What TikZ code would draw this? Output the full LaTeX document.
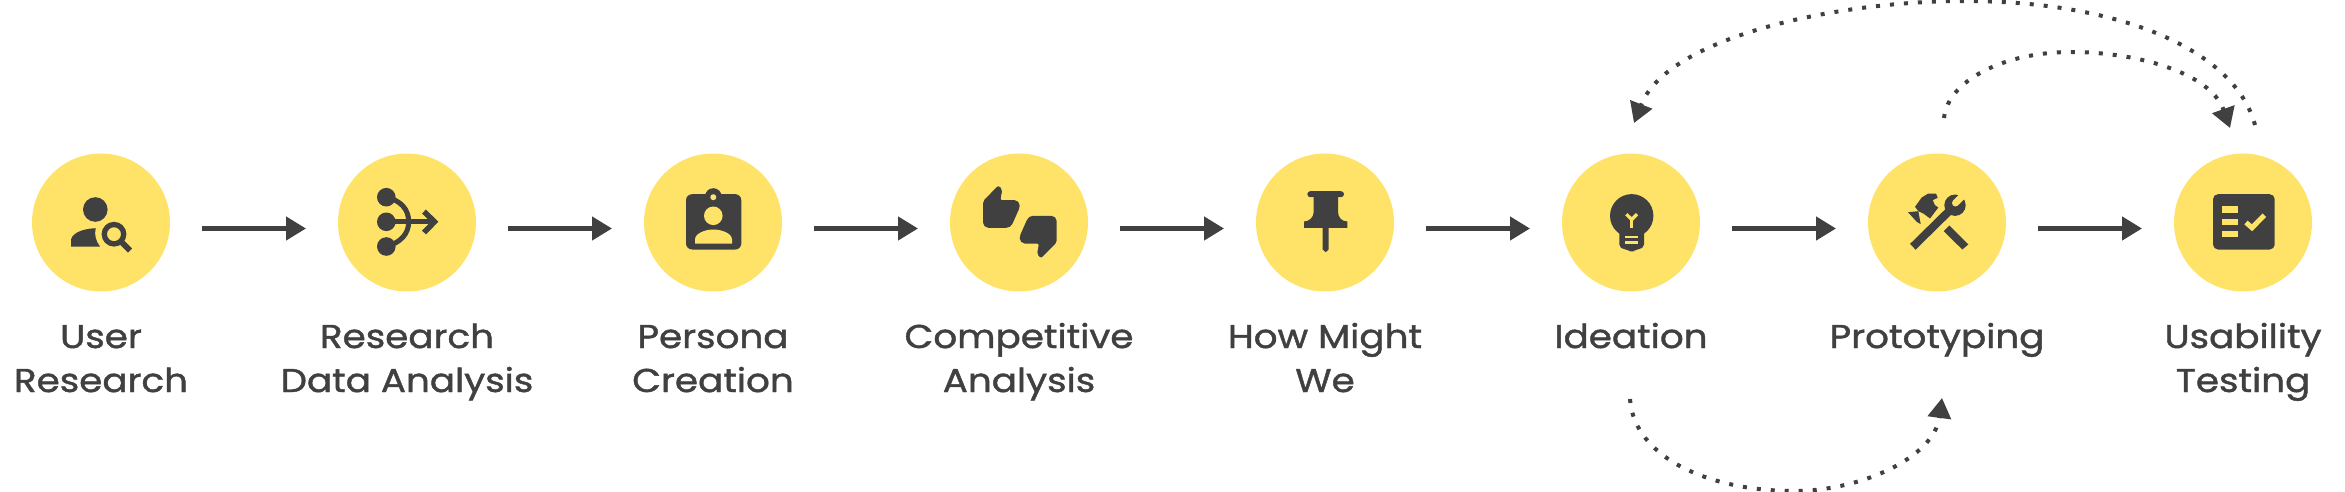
\documentclass[tikz,border=0pt]{standalone}
\usepackage{fontspec}
\setmainfont[FakeStretch=1.13,FakeBold=1.3]{Poppins}
\usetikzlibrary{arrows.meta,calc}
\definecolor{inkc}{HTML}{404040}
\definecolor{sun}{HTML}{FFE369}
\tikzset{
  disc/.style={circle,fill=sun,draw=none,minimum size=138pt,inner sep=0pt,outer sep=0pt},
  caption/.style={font=\fontsize{33}{44}\selectfont,text=inkc,align=center,anchor=base,inner sep=0pt},
  flow/.style={draw=inkc,line width=4.5pt,-{Triangle[length=20pt,width=23pt]}},
  loopback/.style={draw=inkc,line width=4pt,dash pattern=on 4pt off 10pt,-{Triangle[length=20pt,width=23pt]}},
  ink/.style={fill=inkc,draw=none},
  hole/.style={fill=sun,draw=none},
  inkline/.style={draw=inkc,fill=none},
  holeline/.style={draw=sun,fill=none}
}
\begin{document}
\begin{tikzpicture}[x=1pt,y=-1pt]
\useasboundingbox (0,0) rectangle (2345,492);
\foreach \i/\cx in {1/101,2/407,3/713,4/1019,5/1325,6/1631,7/1937,8/2243}
  \node[disc] (c\i) at (\cx,222.5) {};
\node[caption] (t1) at (101,392) {User\\Research};
\node[caption] (t2) at (407,392) {Research\\Data Analysis};
\node[caption] (t3) at (713,392) {Persona\\Creation};
\node[caption] (t4) at (1019,392) {Competitive\\Analysis};
\node[caption] (t5) at (1325,392) {How Might\\We};
\node[caption] (t6) at (1631,348) {Ideation};
\node[caption] (t7) at (1937,348) {Prototyping};
\node[caption] (t8) at (2243,392) {Usability\\Testing};
\foreach \a/\b in {1/2,2/3,3/4,4/5,5/6,6/7,7/8}
  \draw[flow] ([shift={(32,6)}]c\a.east) -- ([shift={(-32,6)}]c\b.west);
% loop-back connectors
\coordinate (big0) at (2255,125);
\coordinate (bigtop) at (1964,1);
\coordinate (bigend) at (1634,123);
\coordinate (mid0) at (1944,118);
\coordinate (midtop) at (2071,52);
\coordinate (midend) at (2230,128);
\coordinate (low0) at (1630,399);
\coordinate (lowbot) at (1794,491);
\coordinate (lowend) at (1942,398);
\draw[loopback] (big0) .. controls (2235,50) and (2120,1) .. (bigtop) .. controls (1840,1) and (1668,36) .. (bigend);
\draw[loopback] (mid0) .. controls (1948,80) and (2005,52) .. (midtop) .. controls (2135,52) and (2210,72) .. (midend);
\draw[loopback] (low0) .. controls (1634,458) and (1710,491) .. (lowbot) .. controls (1860,491) and (1934,458) .. (lowend);
% icon 1: user search
\begin{scope}[shift={(c1.center)}]
  \fill[ink] (-5.7,-13) circle[radius=12.3];
  \fill[ink] (-30,24) -- (-30,17) .. controls (-28,9) and (-15,6) .. (-5.3,5.7) .. controls (-7,12) and (-5,19) .. (-1,24) -- cycle;
  \draw[inkline,line width=5.3pt] (13,11.7) circle[radius=9.7];
  \draw[inkline,line width=6pt] (20.5,19.5) -- (29,28);
\end{scope}
% icon 2: merge arrow
\begin{scope}[shift={(c2.center)}]
  \fill[ink] (-20.7,-25.3) circle[radius=9.3];
  \fill[ink] (-20.7,-0.7) circle[radius=9.3];
  \fill[ink] (-20.7,24) circle[radius=9.3];
  \draw[inkline,line width=5pt] (-20.7,-25.3) .. controls (-6,-22) and (1.7,-13) .. (1.7,-0.7) .. controls (1.7,11) and (-6,20) .. (-20.7,24);
  \draw[inkline,line width=4.7pt] (-20.7,-0.7) -- (27,-0.7);
  \draw[inkline,line width=5.5pt,miter limit=4] (17,-11) -- (27.5,-0.7) -- (17,10);
\end{scope}
% icon 3: badge
\begin{scope}[shift={(c3.center)}]
  \fill[ink,rounded corners=6pt] (-27,-28.3) rectangle (28.3,27);
  \fill[ink] (0.3,-26) circle[radius=8.3];
  \fill[hole] (0.3,-25.3) circle[radius=3];
  \fill[hole] (0.3,-6.7) circle[radius=9.3];
  \fill[hole] (-18,21) -- (-18,17) .. controls (-18,11) and (-8,7) .. (0.3,7) .. controls (9,7) and (19,11) .. (19,17) -- (19,21) -- cycle;
\end{scope}
% icon 4: thumbs
\begin{scope}[shift={(c4.center)}]
  \fill[ink,rounded corners=2pt] (-36,-21.3) -- (-20.7,-37) -- (-16.7,-33) -- (-18.7,-22.3) -- (-2.3,-22.3) -- (0.7,-19) -- (0.7,-15) -- (-7.3,3) -- (-10.7,5.3) -- (-32.7,5.3) -- (-36,2) -- cycle;
  \fill[ink,rounded corners=2pt] (37.7,20) -- (22,35.7) -- (18,31.7) -- (20,21) -- (3.7,21) -- (0.7,17.7) -- (0.7,13.7) -- (8.7,-4.3) -- (12,-6.7) -- (34.3,-6.7) -- (37.7,-3.3) -- cycle;
\end{scope}
% icon 5: pin
\begin{scope}[shift={(c5.center)}]
  \fill[ink,rounded corners=3pt] (-17.7,-31.3) rectangle (19,-25.3);
  \fill[ink] (-11.3,-26) -- (13,-26) -- (13,-10.7) .. controls (13,-5) and (17,-1) .. (22.3,-1) -- (22.3,5.3) -- (-21,5.3) -- (-21,-1) .. controls (-16,-1) and (-11.3,-5) .. (-11.3,-10.7) -- cycle;
  \fill[ink] (-2.3,5) -- (3.7,5) -- (3.7,27) -- (0.7,29.7) -- (-2.3,27) -- cycle;
\end{scope}
% icon 6: bulb
\begin{scope}[shift={(c6.center)}]
  \fill[ink] (0.7,-6.7) circle[radius=21.7];
  \fill[ink,rounded corners=2pt] (-11.7,9) -- (-11.7,24) -- (-8,26.7) -- (-3.7,27) -- (0.7,30) -- (5,27) -- (9,26.7) -- (13,24) -- (13,9) -- cycle;
  \draw[holeline,line width=3.3pt] (-4.7,-8.3) -- (0.7,-3) -- (6,-8.3);
  \draw[holeline,line width=3.3pt] (0.7,-3) -- (0.7,5.3);
  \fill[hole] (-5.7,13) rectangle (6.7,15.7);
  \fill[hole] (-5.7,18.5) rectangle (6.7,21.7);
\end{scope}
% icon 7: tools
\begin{scope}[shift={(c7.center)}]
  \fill[ink] (12.3,3) -- (31.3,22) -- (25.3,27) -- (6.7,8.7) -- cycle;
  \fill[ink] (-29,-10.3) -- (-18.7,-11.3) -- (-16.3,1.7) -- (-20.3,-0.7) -- cycle;
  \fill[ink] (-22,-15.7) -- (-15.3,-25) -- (-8.7,-29) -- (-1,-29) -- (0.7,-24.7) -- (-4.3,-22.3) -- (-2,-17.3) -- (1.3,-15) -- (-7,-4) -- (-13.7,-9) -- (-18.7,-11.3) -- cycle;
  \draw[inkline,line width=8pt] (-24.2,24.3) -- (13,-12.3);
  \fill[ink] (18,-17.3) circle[radius=10.7];
  \draw[holeline,line width=7pt,line cap=round] (18.5,-19.5) -- (28,-29);
\end{scope}
% icon 8: checklist
\begin{scope}[shift={(c8.center)}]
  \fill[ink,rounded corners=5pt] (-30,-28.3) rectangle (31.7,27);
  \fill[hole] (-21,-16.3) rectangle (-5.3,-10);
  \fill[hole] (-21,-3.7) rectangle (-5.3,2.3);
  \fill[hole] (-21,8.7) rectangle (-5.3,14.7);
  \draw[holeline,line width=5pt] (3,0) -- (9,5.3) -- (21.3,-7.3);
\end{scope}
\end{tikzpicture}
\end{document}
